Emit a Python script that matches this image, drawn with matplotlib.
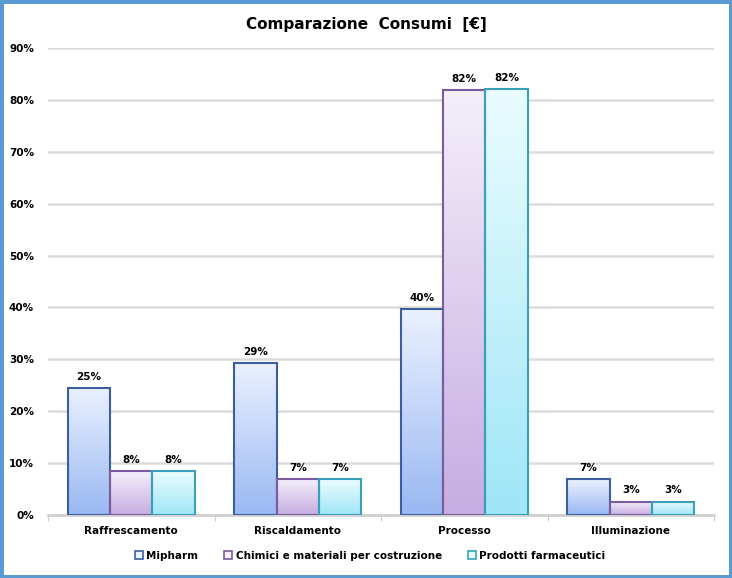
import numpy as np
import matplotlib
matplotlib.use("Agg")
import matplotlib.pyplot as plt
from matplotlib.colors import LinearSegmentedColormap
from matplotlib.patches import Rectangle

categories = ["Raffrescamento", "Riscaldamento", "Processo", "Illuminazione"]
series_names = ["Mipharm", "Chimici e materiali per costruzione", "Prodotti farmaceutici"]
mipharm = [24.5, 29.3, 39.7, 6.9]
chimici = [8.4, 6.9, 81.9, 2.6]
prodotti = [8.4, 6.9, 82.1, 2.6]
labels_mipharm = ["25%", "29%", "40%", "7%"]
labels_chimici = ["8%", "7%", "82%", "3%"]
labels_prodotti = ["8%", "7%", "82%", "3%"]

series = [mipharm, chimici, prodotti]
labels = [labels_mipharm, labels_chimici, labels_prodotti]
# (top colour, bottom colour, edge colour)
styles = [("#eaf1ff", "#9ab8f2", "#3b5f9e"),
          ("#f4effa", "#c6ade2", "#7a5b9c"),
          ("#eafcff", "#9fe6f7", "#3aa0b8")]

fig = plt.figure(figsize=(7.32, 5.78), dpi=100)
fig.patch.set_edgecolor("#5b9bd5")
fig.patch.set_linewidth(5)
ax = fig.add_axes([48 / 732, 1 - 515 / 578, 666 / 732, 467 / 578])

width = 0.254
x = np.arange(len(categories))
grad = np.linspace(0, 1, 64).reshape(-1, 1)
for i, (vals, labs, (top, bot, edge)) in enumerate(zip(series, labels, styles)):
    xs = x + (i - 1) * width
    cmap = LinearSegmentedColormap.from_list(f"g{i}", [bot, top])
    for xc, v, lab in zip(xs, vals, labs):
        ax.imshow(grad, extent=(xc - width / 2, xc + width / 2, 0, v),
                  origin="lower", cmap=cmap, aspect="auto", zorder=3)
        ax.add_patch(Rectangle((xc - width / 2, 0), width, v, facecolor="none",
                               edgecolor=edge, linewidth=1.5, zorder=4))
        ax.text(xc, v + 1.2, lab, ha="center", va="bottom", fontsize=7.5,
                fontweight="bold", zorder=5)
    ax.add_patch(Rectangle((0, 0), 0, 0, facecolor=top, edgecolor=edge,
                           linewidth=1.2, label=series_names[i]))

ax.set_xlim(-0.5, len(categories) - 0.5)
ax.set_ylim(0, 90)
ax.set_yticks(np.arange(0, 91, 10))
ax.set_yticklabels([f"{v}%" for v in range(0, 91, 10)], fontsize=7.5, fontweight="bold")
ax.set_xticks(x)
ax.set_xticklabels(categories, fontsize=7.5, fontweight="bold")
ax.set_xticks(np.arange(-0.5, len(categories), 1), minor=True)
ax.tick_params(axis="x", which="major", length=0, pad=8)
ax.tick_params(axis="x", which="minor", length=4, color="#bfbfbf")
ax.tick_params(axis="y", length=0, pad=10)
ax.grid(axis="y", color="#dcdcdc", linewidth=1.8)
ax.set_axisbelow(True)
for s in ["top", "right", "left"]:
    ax.spines[s].set_visible(False)
ax.spines["bottom"].set_color("#d0d0d0")
ax.spines["bottom"].set_linewidth(2)

fig.text(0.5, 1 - 24 / 578, "Comparazione  Consumi  [€]", ha="center", va="center",
         fontsize=11, fontweight="bold")
fig.legend(loc="center", bbox_to_anchor=(370 / 732, 1 - 556 / 578), ncol=3,
           frameon=False, prop={"size": 7.5, "weight": "bold"}, handlelength=0.8,
           handleheight=0.8, handletextpad=0.3, columnspacing=2.5)

fig.savefig("out.png", dpi=100, edgecolor=fig.get_edgecolor())
